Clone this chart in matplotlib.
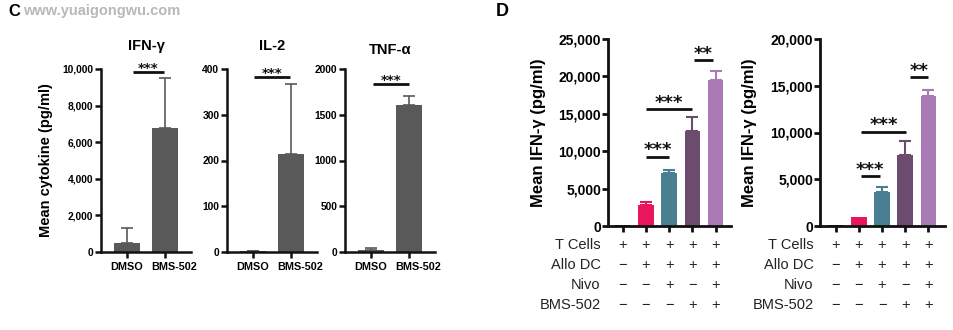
import matplotlib.pyplot as plt
import matplotlib.transforms as mtransforms

plt.rcParams['font.family'] = ['Liberation Sans', 'DejaVu Sans']

# ---- panel C data ----
c_groups = ["DMSO", "BMS-502"]
c_titles = ["IFN-γ", "IL-2", "TNF-α"]
ifng_mean = [500, 6800]
ifng_err = [800, 2700]
il2_mean = [3, 215]
il2_err = [0, 153]
tnfa_mean = [20, 1610]
tnfa_err = [20, 100]
c_ymax = [10000, 400, 2000]
c_yticks = [[0, 2000, 4000, 6000, 8000, 10000], [0, 100, 200, 300, 400], [0, 500, 1000, 1500, 2000]]

# ---- panel D data ----
d_rows = ["T Cells", "Allo DC", "Nivo", "BMS-502"]
d_signs = [["+", "+", "+", "+", "+"],
           ["−", "+", "+", "+", "+"],
           ["−", "−", "+", "−", "+"],
           ["−", "−", "−", "+", "+"]]
d1_mean = [150, 2850, 7100, 12700, 19500]
d1_err = [0, 380, 450, 1900, 1250]
d2_mean = [100, 950, 3600, 7550, 13950]
d2_err = [0, 0, 550, 1500, 600]
d_colors = ["#1a1a1a", "#e8175d", "#4a7f91", "#6c4c6e", "#a97ab5"]

W, H = 954, 330
fig = plt.figure(figsize=(W / 100, H / 100), dpi=100)


def px_axes(x0, y0, x1, y1):
    return fig.add_axes([x0 / W, 1 - y1 / H, (x1 - x0) / W, (y1 - y0) / H])


def style(ax, lw=1.8):
    for s in ["top", "right"]:
        ax.spines[s].set_visible(False)
    for s in ["left", "bottom"]:
        ax.spines[s].set_linewidth(lw)
        ax.spines[s].set_color("#111111")
    ax.tick_params(width=lw, length=4, color="#111111")


def sig(ax, x0, x1, y, txt, fs, off):
    ax.plot([x0, x1], [y, y], color="#111111", lw=2, clip_on=False, solid_capstyle="butt")
    ax.annotate(txt, ((x0 + x1) / 2, y), xytext=(0, off), textcoords="offset points",
                ha="center", va="baseline", fontsize=fs, fontweight="bold",
                family="DejaVu Sans", color="#111111", annotation_clip=False)


# watermark and panel labels
fig.text(8 / W, 1 - 11 / H, "C", fontsize=12, fontweight="bold", va="center")
fig.text(23 / W, 1 - 11 / H, "www.yuaigongwu.com", fontsize=10.5, fontweight="bold",
         color="#b8b8b8", va="center")
fig.text(496 / W, 1 - 12 / H, "D", fontsize=13, fontweight="bold", va="center")

# ---- panel C ----
c_means = [ifng_mean, il2_mean, tnfa_mean]
c_errs = [ifng_err, il2_err, tnfa_err]
c_left = [101, 227, 345]
c_pad = [14, 13.5, 11]
c_sig = [(0.16, 0.97, 9836), (0.03, 0.97, 382), (0.05, 1.0, 1836)]
c_fmt = [lambda v: f"{int(v):,}", lambda v: f"{int(v)}", lambda v: f"{int(v)}"]
shift = mtransforms.ScaledTranslation(0.09, 0, fig.dpi_scale_trans)
for i in range(3):
    ax = px_axes(c_left[i], 69, c_left[i] + 90, 252)
    ax.bar([0, 1], c_means[i], width=0.68, color="#595959")
    ax.errorbar([0, 1], c_means[i], yerr=[[0, 0], c_errs[i]], fmt="none",
                ecolor="#595959", elinewidth=1.2, capsize=4, capthick=1.2)
    ax.set_xlim(-0.68, 1.68)
    ax.set_ylim(0, c_ymax[i])
    ax.set_yticks(c_yticks[i])
    ax.set_yticklabels([c_fmt[i](v) for v in c_yticks[i]])
    ax.set_xticks([0, 1])
    ax.set_xticklabels(c_groups)
    style(ax, 1.8)
    ax.tick_params(axis="y", labelsize=7.4, pad=1.5)
    ax.tick_params(axis="x", labelsize=7.8, pad=3)
    for t in ax.get_xticklabels() + ax.get_yticklabels():
        t.set_fontweight("bold")
    lab = ax.get_xticklabels()[1]
    lab.set_transform(lab.get_transform() + shift)
    ax.set_title(c_titles[i], fontsize=10.5, fontweight="bold", pad=c_pad[i])
    x0, x1, y = c_sig[i]
    sig(ax, x0, x1, y, "***", 9.5, 0)
    if i == 0:
        ax.set_ylabel("Mean cytokine (pg/ml)", fontsize=10.5, fontweight="bold")
        ax.yaxis.set_label_coords(-0.53, 0.5)

# ---- panel D ----
d_means = [d1_mean, d2_mean]
d_errs = [d1_err, d2_err]
d_box = [(608, 731, -0.63, 4.66), (820, 945, -0.68, 4.72)]
d_ymax = [25000, 20000]
d_yticks = [[0, 5000, 10000, 15000, 20000, 25000], [0, 5000, 10000, 15000, 20000]]
d_sig = [[(1.0, 2.0, 9240, "***"), (1.02, 2.98, 15590, "***"), (3.05, 3.9, 22150, "**")],
         [(1.07, 1.9, 5320, "***"), (1.1, 3.05, 10070, "***"), (3.2, 4.0, 15900, "**")]]
d_lab_x = [-0.50, -0.50]
xs = list(range(5))
for k in range(2):
    x0p, x1p, xl, xr = d_box[k]
    ax = px_axes(x0p, 39, x1p, 226)
    ax.bar(xs, d_means[k], width=0.67, color=d_colors)
    for j in xs:
        if d_errs[k][j] > 0:
            ax.errorbar(j, d_means[k][j], yerr=[[0], [d_errs[k][j]]], fmt="none",
                        ecolor=d_colors[j], elinewidth=1.5, capsize=4, capthick=1.5)
    ax.set_xlim(xl, xr)
    ax.set_ylim(0, d_ymax[k])
    ax.set_yticks(d_yticks[k])
    ax.set_yticklabels([f"{v:,}" for v in d_yticks[k]])
    ax.set_xticks(xs)
    ax.set_xticklabels([])
    style(ax, 2.0)
    ax.tick_params(axis="y", labelsize=10, pad=1)
    for t in ax.get_yticklabels():
        t.set_fontweight("bold")
    ax.set_ylabel("Mean IFN-γ (pg/ml)", fontsize=12, fontweight="bold")
    ax.yaxis.set_label_coords(d_lab_x[k], 0.5)
    for x0, x1, y, txt in d_sig[k]:
        sig(ax, x0, x1, y, txt, 13, 1)
    trans = ax.get_xaxis_transform()
    for r, name in enumerate(d_rows):
        ya = -(245 + 20 * r - 226) / 187
        ax.text(-0.955, ya, name, transform=trans, ha="right", va="center",
                fontsize=10.5, color="#222222")
        for j in xs:
            ax.text(j, ya, d_signs[r][j], transform=trans, ha="center", va="center",
                    fontsize=10.5, color="#222222")

fig.savefig("out.png", dpi=100)
